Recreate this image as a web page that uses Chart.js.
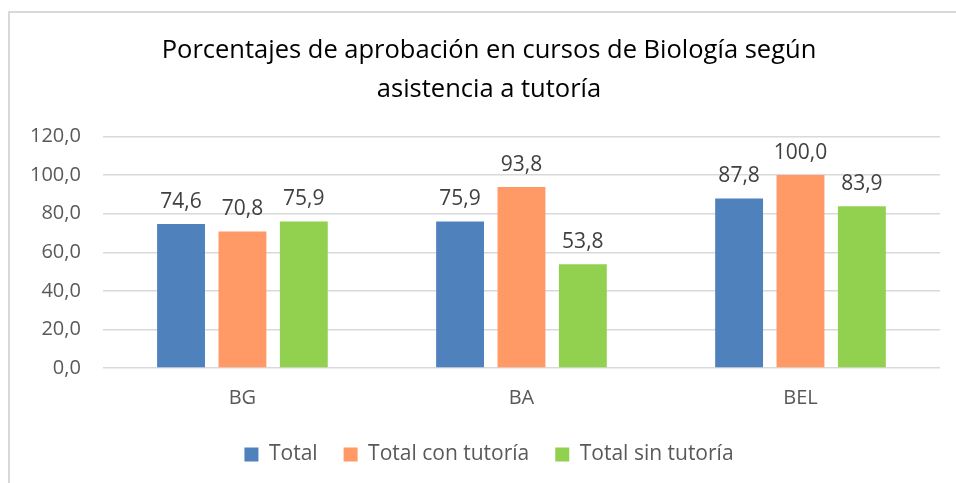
<!DOCTYPE html>
<html>
<head>
<meta charset="utf-8">
<script src="https://cdn.jsdelivr.net/npm/chart.js@4/dist/chart.umd.min.js"></script>
<style>
  body { margin: 0; background: #fff; overflow: hidden; }
  #frame {
    position: absolute; left: 8px; top: 11px; width: 1000px; height: 520px;
    border-top: 2px solid #d9d9d9; border-left: 2px solid #d9d9d9;
  }
  #chart { position: absolute; left: 0; top: 0; }
</style>
</head>
<body>
<div id="frame"></div>
<canvas id="chart" width="956" height="483"></canvas>
<script>
// chart data
const categories = ['BG', 'BA', 'BEL'];
const seriesNames = ['Total', 'Total con tutoría', 'Total sin tutoría'];
const totalValues = [74.6, 75.9, 87.8];
const conTutoriaValues = [70.8, 93.8, 100.0];
const sinTutoriaValues = [75.9, 53.8, 83.9];
const seriesColors = ['#4f81bd', '#ff9966', '#92d050'];

const FONT = "'Open Sans', 'Liberation Sans', sans-serif";
const fmt = v => Number(v).toFixed(1).replace('.', ',');

// draw value labels above each bar
const barLabels = {
  id: 'barLabels',
  afterDatasetsDraw(chart) {
    const ctx = chart.ctx;
    ctx.save();
    ctx.font = `21px ${FONT}`;
    ctx.fillStyle = '#404040';
    ctx.textAlign = 'center';
    ctx.textBaseline = 'bottom';
    chart.data.datasets.forEach((ds, i) => {
      chart.getDatasetMeta(i).data.forEach((bar, j) => {
        ctx.fillText(fmt(ds.data[j]), bar.x, bar.y - 12);
      });
    });
    ctx.restore();
  }
};

// title and legend sit centred on the whole frame, a bit right of the plot
const centreShift = {
  id: 'centreShift',
  afterLayout(chart) {
    const dx = 15;
    [chart.titleBlock, chart.legend].forEach(box => {
      if (!box) return;
      box.left += dx;
      box.right += dx;
    });
  }
};

new Chart(document.getElementById('chart'), {
  type: 'bar',
  data: {
    labels: categories,
    datasets: [
      { label: seriesNames[0], data: totalValues, backgroundColor: seriesColors[0] },
      { label: seriesNames[1], data: conTutoriaValues, backgroundColor: seriesColors[1] },
      { label: seriesNames[2], data: sinTutoriaValues, backgroundColor: seriesColors[2] }
    ]
  },
  options: {
    responsive: false,
    animation: false,
    categoryPercentage: 0.66,
    barPercentage: 0.78,
    layout: { padding: { left: 8, right: 16, top: 32, bottom: 8 } },
    plugins: {
      title: {
        display: true,
        text: ['Porcentajes de aprobación en cursos de Biología según', 'asistencia a tutoría'],
        color: '#000',
        font: { family: FONT, size: 25.5, weight: 'normal', lineHeight: 1.5 },
        padding: { top: 0, bottom: 28 }
      },
      legend: {
        position: 'bottom',
        labels: {
          color: '#595959',
          font: { family: FONT, size: 21 },
          boxWidth: 14,
          boxHeight: 14,
          padding: 26
        }
      },
      tooltip: { enabled: false }
    },
    scales: {
      x: {
        grid: { display: false, drawTicks: false },
        border: { display: false },
        ticks: { color: '#595959', font: { family: FONT, size: 20 }, padding: 18 },
        // trim the unused space under the category labels
        afterFit: scale => { scale.height = 50; }
      },
      y: {
        min: 0,
        max: 120,
        ticks: {
          stepSize: 20,
          color: '#595959',
          font: { family: FONT, size: 20 },
          padding: 22,
          callback: v => fmt(v)
        },
        grid: { color: '#d9d9d9', lineWidth: 1.5, drawTicks: false },
        border: { display: false }
      }
    }
  },
  plugins: [barLabels, centreShift]
});
</script>
</body>
</html>
